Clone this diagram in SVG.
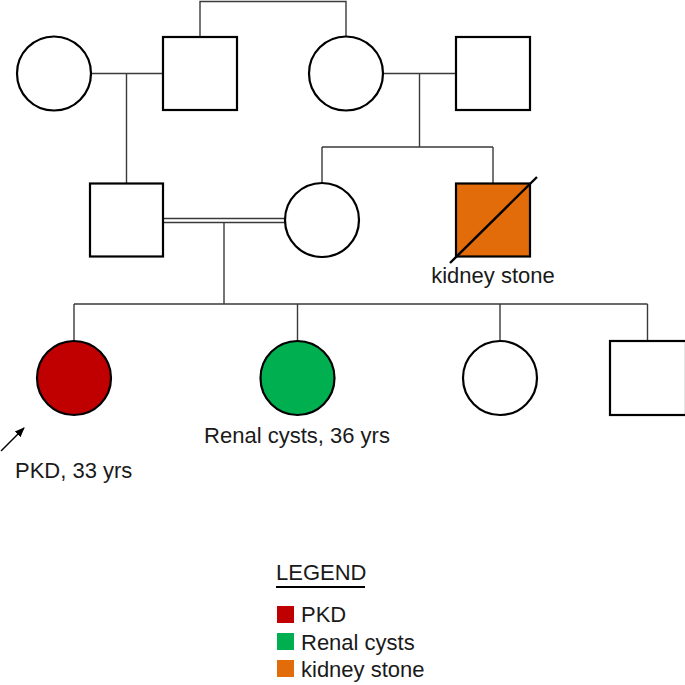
<svg xmlns="http://www.w3.org/2000/svg" width="685" height="685" viewBox="0 0 685 685">
<style>
.n{stroke:#000;stroke-width:2.2;fill:#fff}
.c{stroke:#3a3a3a;stroke-width:1.4;fill:none}
.t{font-family:"Liberation Sans",Arial,sans-serif;font-size:22px;fill:#1a1a1a}
</style>
<defs>
<marker id="ah" markerWidth="10" markerHeight="10" refX="9" refY="5" orient="auto" markerUnits="userSpaceOnUse" viewBox="0 0 10 10">
<path d="M0,1 L10,5 L0,9 z" fill="#000"/>
</marker>
</defs>
<rect width="685" height="685" fill="#fff"/>
<g id="connectors">
<path class="c" d="M200,37 V1.5 H346 V37"/>
<path class="c" d="M91,73.5 H163 M126.5,73.5 V183"/>
<path class="c" d="M383,73.5 H456 M419.5,73.5 V147 M322,147 H493 M322,147 V183 M493,147 V183"/>
<path class="c" d="M163,218.5 H285 M163,222.5 H285 M224,222.5 V304"/>
<path class="c" d="M74,304 H647.5 M74,304 V341 M297.5,304 V341 M500,304 V341 M647.5,304 V341"/>
</g>
<g id="gen1-f1"><circle class="n" cx="54" cy="73.5" r="37"/></g>
<g id="gen1-m1"><rect class="n" x="163" y="37" width="74" height="73"/></g>
<g id="gen1-f2"><circle class="n" cx="346" cy="73.5" r="37"/></g>
<g id="gen1-m2"><rect class="n" x="456" y="37" width="74" height="73"/></g>
<g id="gen2-m1"><rect class="n" x="90" y="183.5" width="73" height="73"/></g>
<g id="gen2-f1"><circle class="n" cx="322" cy="220" r="37"/></g>
<g id="gen2-m2">
<rect class="n" x="456" y="183.5" width="74" height="73" style="fill:#e26b0a"/>
<line x1="450" y1="263" x2="537" y2="177" stroke="#000" stroke-width="2.4"/>
<text class="t" x="493" y="283" text-anchor="middle">kidney stone</text>
</g>
<g id="gen3-f1">
<circle class="n" cx="74" cy="378" r="37" style="fill:#c00000"/>
<line x1="1" y1="451" x2="24" y2="428" stroke="#000" stroke-width="1.4" marker-end="url(#ah)"/>
<text class="t" x="15" y="478">PKD, 33 yrs</text>
</g>
<g id="gen3-f2">
<circle class="n" cx="297.5" cy="378" r="37" style="fill:#00b050"/>
<text class="t" x="297" y="443" text-anchor="middle">Renal cysts, 36 yrs</text>
</g>
<g id="gen3-f3"><circle class="n" cx="500" cy="378" r="37"/></g>
<g id="gen3-m1"><rect class="n" x="610" y="341" width="76" height="74"/></g>
<g id="legend">
<text class="t" x="276" y="580">LEGEND</text>
<line x1="276" y1="587" x2="365" y2="587" stroke="#000" stroke-width="2"/>
<rect x="277" y="606" width="17" height="17" fill="#c00000"/>
<text class="t" x="301" y="622">PKD</text>
<rect x="277" y="633" width="17" height="17" fill="#00b050"/>
<text class="t" x="301" y="650">Renal cysts</text>
<rect x="277" y="660" width="17" height="17" fill="#e26b0a"/>
<text class="t" x="301" y="677">kidney stone</text>
</g>
</svg>
